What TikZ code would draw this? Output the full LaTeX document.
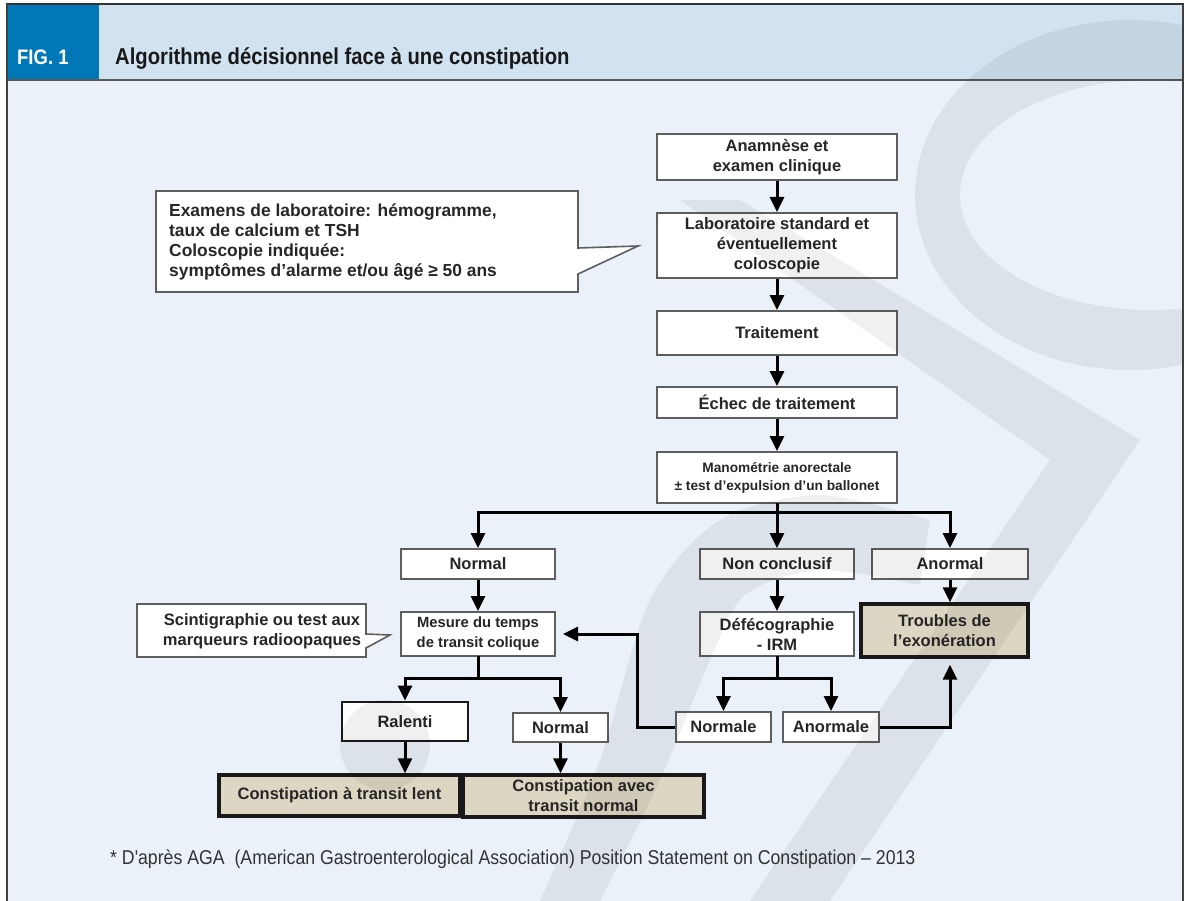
\documentclass[tikz,border=0pt]{standalone}
\usepackage{fontspec}
\setmainfont{Liberation Sans}
\newfontfamily\headfont[FakeStretch=0.88]{Liberation Sans}
\newfontfamily\notefont[FakeStretch=0.885]{Liberation Sans}
\usetikzlibrary{arrows.meta}

\definecolor{figblue}{HTML}{0078B8}
\definecolor{headbg}{HTML}{D1E3F1}
\definecolor{bodybg}{HTML}{EAF1F9}
\definecolor{boxline}{HTML}{5E5E5E}
\definecolor{resultfill}{HTML}{DDD6C2}

\tikzset{
  flow/.style={draw=boxline, line width=2pt, fill=white, inner sep=0pt, align=center,
    text=black!85, font=\bfseries\fontsize{16.5}{20}\selectfont},
  result/.style={flow, draw=black!90, line width=3.4pt, fill=resultfill},
  trunk/.style={line width=3pt, line cap=rect},
  link/.style={line width=3pt, -{Triangle[length=15pt,width=14pt]}},
  bubble/.style={draw=boxline, line width=1.6pt, fill=white},
  logomark/.style={fill=black, fill opacity=0.06},
}

\begin{document}
\begin{tikzpicture}[x=1pt,y=-1pt]
\useasboundingbox (0,0) rectangle (1185,901);

% frame and header
\fill[bodybg] (7,80) rectangle (1183,901);
\fill[headbg] (7,4) rectangle (1183,80);
\fill[figblue] (7,4) rectangle (99,80);
\draw[black!80, line width=2pt] (6,4) -- (1184,4);
\draw[black!65, line width=1.5pt] (7,80) -- (1183,80);
\draw[black!75, line width=1.5pt] (7,4) -- (7,901);
\draw[black!75, line width=1.5pt] (1183,4) -- (1183,901);
\node[anchor=base west, inner sep=0pt, text=white, font=\headfont\bfseries\fontsize{21}{26}\selectfont] (fig) at (17,65) {FIG. 1};
\node[anchor=base west, inner sep=0pt, text=black!90, font=\headfont\bfseries\fontsize{23}{26}\selectfont] (title) at (115,65) {Algorithme décisionnel face à une constipation};

% main column
\node[flow, minimum width=240pt, minimum height=46pt] (anam) at (777,157) {Anamnèse et\\examen clinique};
\node[flow, minimum width=240pt, minimum height=65pt] (labo) at (777,245.5) {Laboratoire standard et\\éventuellement\\coloscopie};
\node[flow, minimum width=240pt, minimum height=44pt] (trait) at (777,333) {Traitement};
\node[flow, minimum width=240pt, minimum height=31pt] (echec) at (777,402.5) {Échec de traitement};
\node[flow, minimum width=240pt, minimum height=51pt, font=\bfseries\fontsize{13.7}{18}\selectfont] (mano) at (777,477.5) {Manométrie anorectale\\± test d'expulsion d'un ballonet};

\draw[link] (anam) -- (labo);
\draw[link] (labo) -- (trait);
\draw[link] (trait) -- (echec);
\draw[link] (echec) -- (mano);

% three outcomes
\node[flow, minimum width=154pt, minimum height=30pt] (normal) at (478,564) {Normal};
\node[flow, minimum width=154pt, minimum height=30pt] (noncl) at (777,564) {Non conclusif};
\node[flow, minimum width=156pt, minimum height=30pt] (anormal) at (950,564) {Anormal};

\coordinate (split) at (777,512);
\draw[trunk] (mano) -- (split);
\draw[trunk] (split -| normal) -- (split -| anormal);
\draw[link] (split -| normal) -- (normal);
\draw[link] (split) -- (noncl);
\draw[link] (split -| anormal) -- (anormal);

\node[flow, minimum width=154pt, minimum height=44pt, font=\bfseries\fontsize{14.8}{20}\selectfont] (mesure) at (478,634) {Mesure du temps\\de transit colique};
\node[flow, minimum width=154pt, minimum height=44pt] (defeco) at (777,634) {Défécographie\\- IRM};
\node[result, minimum width=167pt, minimum height=53pt] (troubles) at (944.5,630.5) {Troubles de\\l'exonération};

\draw[link] (normal) -- (mesure);
\draw[link] (noncl) -- (defeco);
\draw[link] (anormal) -- (anormal |- troubles.north);

% transit branch
\node[flow, draw=black!90, line width=2.8pt, minimum width=126pt, minimum height=39pt] (ralenti) at (405,721.5) {Ralenti};
\node[flow, minimum width=95pt, minimum height=29pt] (normaltwo) at (560.5,727.5) {Normal};
\node[result, minimum width=241pt, minimum height=41pt] (lent) at (339.5,795.5) {Constipation à transit lent};
\node[result, minimum width=241pt, minimum height=42pt] (avec) at (583.5,796) {Constipation avec\\transit normal};

\coordinate (msplit) at (478,678);
\draw[trunk] (mesure) -- (msplit);
\draw[trunk] (ralenti |- msplit) -- (normaltwo |- msplit);
\draw[link] (ralenti |- msplit) -- (ralenti);
\draw[link] (normaltwo |- msplit) -- (normaltwo);
\draw[link] (ralenti) -- (ralenti |- lent.north);
\draw[link] (normaltwo) -- (normaltwo |- avec.north);

% defecography branch
\node[flow, minimum width=95pt, minimum height=30pt] (normale) at (723.5,727) {Normale};
\node[flow, minimum width=96pt, minimum height=30pt] (anormale) at (831,727) {Anormale};

\coordinate (dsplit) at (777,678);
\draw[trunk] (defeco) -- (dsplit);
\draw[trunk] (normale |- dsplit) -- (anormale |- dsplit);
\draw[link] (normale |- dsplit) -- (normale);
\draw[link] (anormale |- dsplit) -- (anormale);

\draw[link, shorten >=7pt] (normale.west) -- ++(-38,0) |- (mesure.east);
\draw[link, shorten >=6pt] (anormale.east) -| (anormal |- troubles.south);

% callouts
\draw[bubble] (156,191) -- (578,191) -- (578,248) -- (638,246) -- (578,274) -- (578,292) -- (156,292) -- cycle;
\node[anchor=west, inner sep=0pt, align=left, text=black!85, font=\bfseries\fontsize{17.4}{20}\selectfont] (labnote) at (169,242)
  {Examens de laboratoire: hémogramme,\\taux de calcium et TSH\\Coloscopie indiquée:\\symptômes d'alarme et/ou âgé ≥ 50 ans};
\draw[bubble] (137,604) -- (366,604) -- (366,634) -- (390,635) -- (366,648) -- (366,657) -- (137,657) -- cycle;
\node[inner sep=0pt, align=center, text=black!85, font=\bfseries\fontsize{16.5}{20}\selectfont] (scinti) at (262,631)
  {Scintigraphie ou test aux\\marqueurs radioopaques};

% footnote
\node[anchor=base west, inner sep=0pt, text=black!80, font=\notefont\fontsize{20}{24}\selectfont] (note) at (110,864)
  {* D'après AGA\ \ (American Gastroenterological Association) Position Statement on Constipation – 2013};

% watermark
\begin{scope}
\clip (7,4) rectangle (1183,901);
\fill[logomark, even odd rule] (1130,195) ellipse[x radius=215, y radius=175] (1150,195) ellipse[x radius=190, y radius=115];
\fill[logomark] (680,200) -- (740,200) -- (1140,440) -- (830,901) -- (750,901) -- (1050,460) -- cycle;
\fill[logomark] plot[smooth] coordinates {(540,901) (600,760) (650,600) (720,520) (820,495) (930,520)}
  -- plot[smooth] coordinates {(920,585) (820,570) (745,595) (710,660) (660,780) (600,901)} -- cycle;
\fill[logomark] (385,745) circle[radius=45];
\end{scope}
\end{tikzpicture}
\end{document}
